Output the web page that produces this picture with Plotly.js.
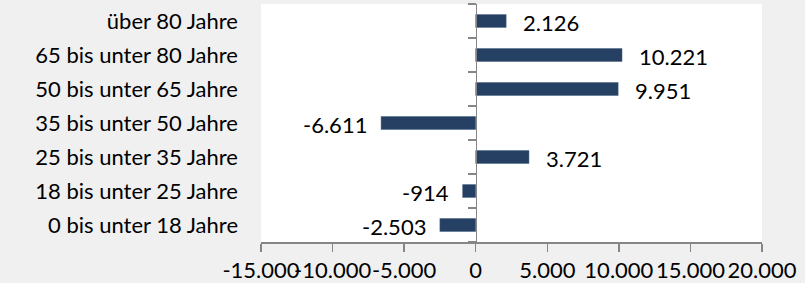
<!DOCTYPE html>
<html>
<head>
<meta charset="utf-8">
<script src="https://cdn.plot.ly/plotly-3.0.1.min.js"></script>
<style>html,body{margin:0;padding:0;background:#f0f0f0;}#chart{width:805px;height:283px;}</style>
</head>
<body>
<div id="chart"></div>
<script>
const categories = ["0 bis unter 18 Jahre","18 bis unter 25 Jahre","25 bis unter 35 Jahre","35 bis unter 50 Jahre","50 bis unter 65 Jahre","65 bis unter 80 Jahre","über 80 Jahre"];
const values = [-2503, -914, 3721, -6611, 9951, 10221, 2126];
const xTickVals = [-15000, -10000, -5000, 0, 5000, 10000, 15000, 20000];
const xTickText = ["-15.000", "-10.000", "-5.000", "0", "5.000", "10.000", "15.000", "20.000"];

function fmt(v) {
  const s = Math.abs(v).toString().replace(/\B(?=(\d{3})+(?!\d))/g, ".");
  return (v < 0 ? "-" : "") + s;
}

const FONT = "Lato, 'Open Sans', sans-serif";
const FS = 22;
const xMin = -15000, xMax = 20000;
const zeroPos = (0 - xMin) / (xMax - xMin);
const boundaries = categories.map((c, i) => i - 0.5).concat([categories.length - 0.5]);

const trace = {
  type: "bar",
  orientation: "h",
  y: categories,
  x: values,
  marker: {color: "#254062", line: {color: "#4b6584", width: 0.5}},
  hoverinfo: "skip"
};

// empty helper trace so the zero-position axis (line + ticks) is drawn
const axisTrace = {type: "scatter", mode: "markers", x: [], y: [], yaxis: "y2", hoverinfo: "skip"};

const annotations = values.map((v, i) => ({
  x: v, y: categories[i], xref: "x", yref: "y",
  text: fmt(v), showarrow: false,
  xanchor: v < 0 ? "right" : "left",
  xshift: v < 0 ? -12 : 15,
  yshift: -1,
  font: {family: FONT, size: FS, color: "#000"}
}));

const layout = {
  width: 805, height: 283,
  margin: {l: 261, r: 43, t: 4, b: 41, pad: 0},
  paper_bgcolor: "#f0f0f0",
  plot_bgcolor: "#ffffff",
  showlegend: false,
  bargap: 0.62,
  separators: ",.",
  font: {family: FONT, size: FS, color: "#000"},
  xaxis: {
    range: [xMin, xMax],
    tickvals: xTickVals, ticktext: xTickText, tickangle: 0,
    showgrid: false, zeroline: false,
    showline: true, linecolor: "#868686", linewidth: 1.5,
    ticks: "outside", ticklen: 8, tickcolor: "#868686", tickwidth: 1.5,
    tickfont: {family: FONT, size: FS, color: "#000"},
    fixedrange: true
  },
  yaxis: {
    type: "category",
    categoryorder: "array", categoryarray: categories,
    range: [-0.5, categories.length - 0.5],
    showgrid: false, zeroline: false, showline: false,
    ticks: "", ticklabelstandoff: 22,
    tickfont: {family: FONT, size: FS, color: "#000"},
    fixedrange: true
  },
  yaxis2: {
    overlaying: "y", anchor: "free", position: zeroPos, side: "left",
    range: [-0.5, categories.length - 0.5],
    tickvals: boundaries,
    showticklabels: false, showgrid: false, zeroline: false,
    showline: true, linecolor: "#868686", linewidth: 1.5,
    ticks: "outside", ticklen: 8, tickcolor: "#868686", tickwidth: 1.5,
    fixedrange: true
  },
  annotations: annotations
};

Plotly.newPlot("chart", [trace, axisTrace], layout, {displayModeBar: false, staticPlot: true});
</script>
</body>
</html>
